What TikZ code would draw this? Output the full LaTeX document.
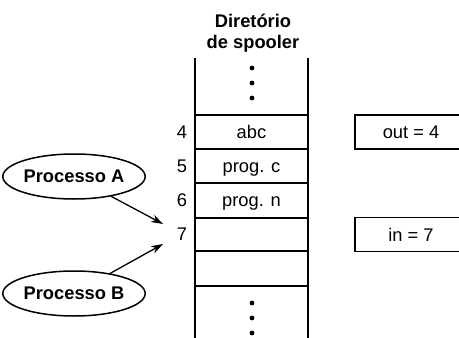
\documentclass[tikz,border=0pt]{standalone}
\usepackage{fontspec}
\setmainfont{Liberation Sans}
\usetikzlibrary{shapes.geometric,arrows.meta}
\begin{document}
\begin{tikzpicture}[x=1pt,y=-1pt,
  every node/.style={font=\fontsize{18.3}{21}\selectfont, inner sep=0pt},
  ln/.style={line width=1.5pt},
  proc/.style={draw, ellipse, line width=1.5pt, minimum width=122pt, minimum height=45pt, font=\bfseries\fontsize{18.3}{21}\selectfont},
  arr/.style={line width=1.3pt, -{Stealth[length=12pt,width=8pt]}},
  dot/.style={circle, fill, minimum size=4.8pt, inner sep=0pt},
  varbox/.style={draw, line width=1.5pt, minimum width=120pt, minimum height=34pt, anchor=west}
]
\useasboundingbox (0,0) rectangle (459,338);
\clip (0,0) rectangle (459,338);
% title
\node[font=\bfseries\fontsize{18.3}{21}\selectfont, align=center] (title) at (253,33) {Diretório\\de spooler};
% column
\draw[ln] (195,58) -- (195,345);
\draw[ln] (308,58) -- (308,345);
\foreach \yy in {115,149,183,218,251,286} \draw[ln] (195,\yy) -- (308,\yy);
% dots
\foreach \yy [count=\i] in {68,83,98} \node[dot] (dt\i) at (252,\yy) {};
\foreach \yy [count=\i] in {303,318,333} \node[dot] (db\i) at (252,\yy) {};
% contents
\node (c4) at (251.5,132) {abc};
\node[anchor=base] (c5) at (251.5,172) {prog. c};
\node[anchor=base] (c6) at (251.5,206.5) {prog. n};
\node (n4) at (182,132) {4};
\node (n5) at (182,166) {5};
\node (n6) at (182,200.5) {6};
\node (n7) at (182,234) {7};
% variables
\node[varbox] (out) at (354,132) {};
\node (outt) at (411,132) {out = 4};
\node[varbox] (in) at (354,234.5) {};
\node (int) at (411,234.5) {in = 7};
% processes
\node[proc] (A) at (74,176.5) {Processo A};
\node[proc] (B) at (74,293.5) {Processo B};
\coordinate (tA) at (163,224);
\coordinate (tB) at (163,244);
\draw[arr] (A) -- (tA);
\draw[arr] (B) -- (tB);
\end{tikzpicture}
\end{document}
